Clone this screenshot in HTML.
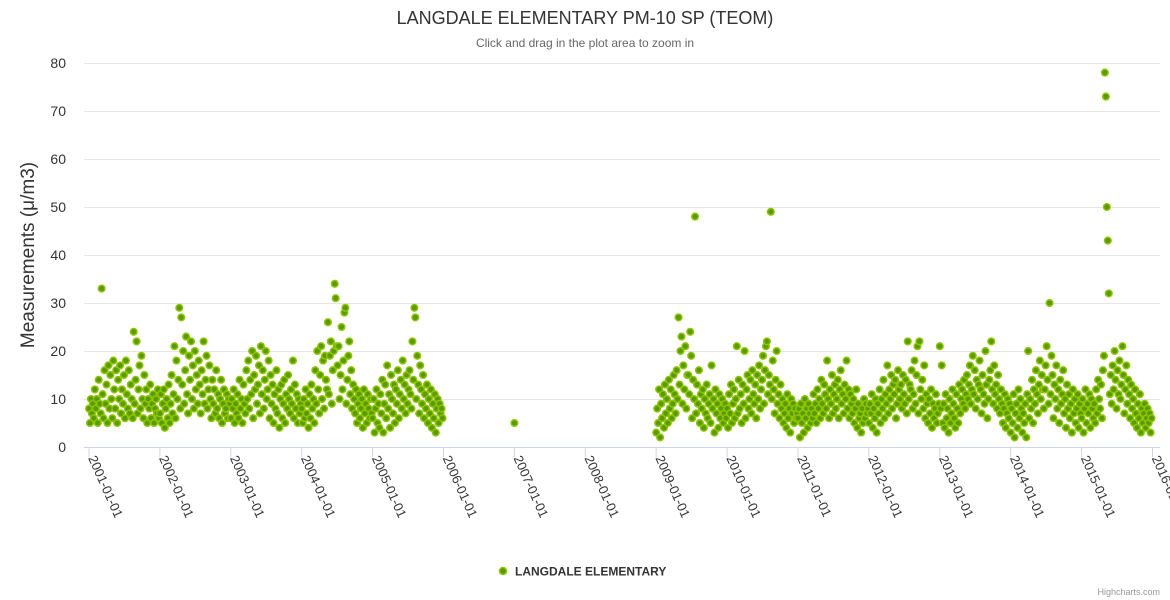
<!DOCTYPE html>
<html><head><meta charset="utf-8">
<style>
html,body{margin:0;padding:0;background:#fff;}
svg{display:block;font-family:"Liberation Sans","DejaVu Sans",sans-serif;}
</style></head>
<body>
<svg id="chart" width="1170" height="600" viewBox="0 0 1170 600">
<text x="585" y="24" text-anchor="middle" font-size="18" fill="#333">LANGDALE ELEMENTARY PM-10 SP (TEOM)</text>
<text x="585" y="47" text-anchor="middle" font-size="12" fill="#666">Click and drag in the plot area to zoom in</text>
<text transform="translate(34,255) rotate(-90)" text-anchor="middle" font-size="19" fill="#333">Measurements (μ/m3)</text>
<g id="grid"></g>
<g id="xaxis"></g>
<g id="points"></g>
<g>
<circle cx="503" cy="571" r="3.5" fill="#5a9a00" stroke="#8cc400" stroke-width="1.5"/>
<text x="515" y="575.5" font-size="12" font-weight="bold" fill="#333">LANGDALE ELEMENTARY</text>
</g>
<text x="1160" y="595" text-anchor="end" font-size="9" fill="#999">Highcharts.com</text>
</svg>
<script>
const yTicks=[0,10,20,30,40,50,60,70,80];
const xTickYears=[2001,2002,2003,2004,2005,2006,2007,2008,2009,2010,2011,2012,2013,2014,2015,2016];
const years=[2001,2002,2003,2004,2005,2009,2010,2011,2012,2013,2014,2015];
const v2001=[8,5,10,7,9,6,12,8,10,5,14,9,7,33,11,6,16,9,13,5,17,8,15,10,6,18,12,8,16,5,14,10,17,7,12,9,15,6,18,11,8,16,7,13,10,6,24,9,14,22,7,12,17,8,19,10,6,15,9,12,5,10,8,13,6,9,11,5,8,10,7,12,6];
const v2002=[7,11,5,9,12,4,8,10,6,13,5,9,15,7,11,21,6,18,10,14,29,8,27,13,20,9,16,23,11,7,19,14,22,10,17,8,20,12,15,9,18,13,7,16,11,22,9,14,19,8,12,17,10,6,14,9,12,7,16,8,11,6,10,14,5,9,12,7,8,11,6,10,9];
const v2003=[6,10,8,12,5,9,7,11,6,14,8,10,5,13,9,7,16,10,18,8,14,11,20,6,15,12,19,9,13,17,7,21,11,16,8,14,20,10,12,18,6,15,9,13,5,11,8,16,7,12,4,10,13,6,9,14,5,11,8,15,10,7,12,9,18,6,13,8,11,5,10,7,9];
const v2004=[8,5,10,6,12,7,9,4,11,6,13,8,10,5,16,9,20,12,7,15,21,10,18,8,19,14,12,26,11,19,22,9,16,20,34,31,21,17,21,10,15,25,12,18,28,29,9,14,19,22,11,16,8,13,10,7,12,5,9,11,6,8,10,4,12,7,9,5,11,8,6,10,7];
const v2005=[6,10,3,8,12,5,9,4,11,7,14,3,9,13,6,17,8,11,4,15,10,7,13,5,12,9,16,6,11,14,8,18,10,13,7,15,9,12,16,11,8,22,14,29,27,10,19,13,7,17,12,9,15,6,11,8,13,5,10,7,12,4,9,6,11,3,8,10,5,9,7,8,6];
const v2009=[3,8,5,12,2,9,6,11,4,13,7,10,5,14,8,12,6,9,15,11,7,16,10,27,13,20,23,9,17,12,21,8,15,15,11,24,19,6,14,10,48,7,13,9,16,5,11,8,12,4,10,7,13,6,9,11,5,17,8,10,3,12,7,9,4,11,6,8,10,5,7,9,6];
const v2010=[8,4,11,7,13,5,9,12,6,10,21,7,14,8,11,5,13,9,20,6,12,15,8,10,14,7,16,11,9,13,6,15,10,17,8,12,14,19,9,16,21,22,11,15,13,49,10,18,12,7,14,20,9,11,6,13,8,10,5,7,9,4,11,6,8,3,10,7,9,5,8,6,7];
const v2011=[6,8,2,9,5,7,3,10,6,8,4,9,7,5,8,6,11,7,9,5,12,8,10,6,14,9,7,13,11,8,18,10,6,12,9,15,7,11,13,8,10,14,6,12,16,9,11,7,13,10,18,8,12,6,11,9,7,10,5,8,12,4,9,6,7,3,8,5,10,6,9,7,8];
const v2012=[5,9,7,11,4,8,6,10,3,9,7,12,5,10,8,14,6,11,9,17,7,12,10,15,8,13,11,14,6,9,16,12,10,13,8,15,11,9,14,7,22,10,13,12,16,8,11,18,9,15,21,7,22,12,10,14,8,17,6,11,9,5,10,7,12,4,9,6,8,11,5,7,9];
const v2013=[21,8,17,5,9,4,11,6,8,3,10,5,7,12,9,6,4,11,8,5,13,7,10,12,9,14,8,11,15,10,13,17,9,12,19,11,16,8,14,10,13,18,12,7,15,11,9,20,13,6,10,14,16,22,12,9,17,11,13,8,15,10,7,12,9,5,8,11,4,7,10,6,9];
const v2014=[3,8,5,11,2,7,9,4,12,6,10,8,3,7,5,9,2,11,20,6,10,8,14,5,12,9,16,11,7,13,18,10,15,12,8,12,17,21,14,9,30,11,19,15,6,13,10,17,8,12,5,14,9,11,16,7,10,4,13,8,11,6,9,3,12,7,10,5,8,11,4,9,7];
const v2015=[6,10,3,8,12,5,9,7,11,4,10,8,6,9,5,12,7,14,10,8,13,6,16,19,78,73,50,43,32,11,15,9,17,12,20,14,8,16,11,18,10,13,21,15,7,12,17,9,14,11,6,13,8,10,5,12,7,4,9,6,11,3,8,5,7,9,4,6,8,5,7,3,6];
const yearValues=[v2001,v2002,v2003,v2004,v2005,v2009,v2010,v2011,v2012,v2013,v2014,v2015];
const singleDates=[2007.0];
const singleValues=[5];

const NS="http://www.w3.org/2000/svg";
const X0=89,PXY=70.9,Y0=447,PXV=4.8;
function xScale(t){return X0+(t-2001)*PXY;}
function yScale(v){return Y0-v*PXV;}
function mk(tag,attrs,parent){const e=document.createElementNS(NS,tag);for(const k in attrs)e.setAttribute(k,attrs[k]);parent.appendChild(e);return e;}

const grid=document.getElementById('grid');
yTicks.forEach(v=>{
  if(v>0){const l=mk('line',{x1:84,x2:1160,y1:yScale(v)+0.5,y2:yScale(v)+0.5,stroke:'#e6e6e6','stroke-width':1},grid);
  
  }
  const t=mk('text',{x:66,y:yScale(v)+5,'text-anchor':'end','font-size':14,fill:'#333'},grid);
  t.textContent=v;
  
  
});
const xa=document.getElementById('xaxis');
const axl=mk('line',{x1:84,x2:1160,y1:Y0+0.5,y2:Y0+0.5,stroke:'#ccd6eb','stroke-width':1},xa);


xTickYears.forEach(yr=>{
  const x=xScale(yr);
  const tk=mk('line',{x1:x,x2:x,y1:Y0,y2:Y0+10,stroke:'#ccd6eb','stroke-width':1},xa);
  
  
  const t=mk('text',{transform:'translate('+(x-1)+','+(Y0+11)+') rotate(66)','font-size':13,fill:'#333'},xa);
  t.textContent=yr+'-01-01';
  
  
});
const pg=document.getElementById('points');
function pt(t,v){
  const c=mk('circle',{cx:xScale(t).toFixed(2),cy:yScale(v).toFixed(2),r:3.3,fill:'#5a9a00',stroke:'#8cc400','stroke-width':1.5},pg);
  
  
}
years.forEach((yr,i)=>{
  const arr=yearValues[i];
  arr.forEach((v,j)=>pt(yr+j/arr.length,v));
});
singleDates.forEach((d,i)=>pt(d,singleValues[i]));
</script>
</body></html>
